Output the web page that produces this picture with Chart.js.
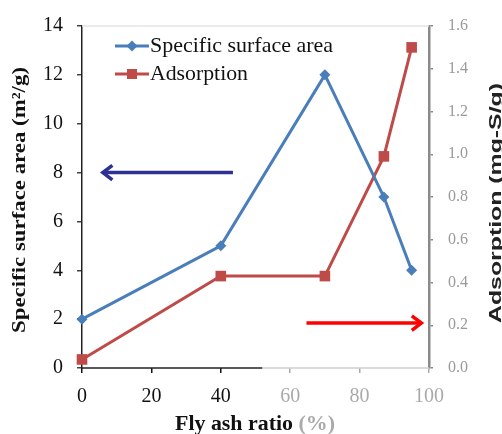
<!DOCTYPE html>
<html>
<head>
<meta charset="utf-8">
<script src="https://cdn.jsdelivr.net/npm/chart.js@4.4.1/dist/chart.umd.min.js"></script>
<style>
  html, body { margin: 0; padding: 0; background: #fff; }
  #wrap { width: 502px; height: 434px; }
</style>
</head>
<body>
<div id="wrap"><canvas id="chart" width="502" height="434"></canvas></div>
<script>
// Data
const ashRatio = [0, 40, 70, 87, 95];            // Fly ash ratio (%)
const surfaceArea = [2, 5, 12, 7, 4];             // m2/g, left axis
const adsorption = [0.04, 0.43, 0.43, 0.99, 1.50]; // mg-S/g, right axis

// Arrows pointing to each series' axis: [xFrom, xTo, yValue]
const blueArrow = [43.5, 6, 8];
const redArrow = [64.7, 97.8, 0.21];

const BLUE = '#4a7ebb';
const RED = '#be4b48';
const SERIF = '"Liberation Serif", "Times New Roman", serif';
const SANS = '"Liberation Sans", Arial, sans-serif';

function drawLine(ctx, x0, y0, x1, y1, color, w) {
    ctx.strokeStyle = color;
    ctx.lineWidth = w;
    ctx.beginPath();
    ctx.moveTo(x0, y0);
    ctx.lineTo(x1, y1);
    ctx.stroke();
}

function drawArrow(ctx, x0, y0, x1, y1, color) {
    drawLine(ctx, x0, y0, x1, y1, color, 3.5);
    const ang = Math.atan2(y1 - y0, x1 - x0);
    const head = 12, spread = 0.65;
    ctx.beginPath();
    ctx.moveTo(x1 - head * Math.cos(ang - spread), y1 - head * Math.sin(ang - spread));
    ctx.lineTo(x1, y1);
    ctx.lineTo(x1 - head * Math.cos(ang + spread), y1 - head * Math.sin(ang + spread));
    ctx.stroke();
}

// text squeezed/stretched to the width seen in the figure
function fitText(ctx, text, cx, cy, rot, font, color, targetW, align) {
    ctx.save();
    ctx.translate(cx, cy);
    ctx.rotate(rot);
    ctx.font = font;
    const w = ctx.measureText(text).width;
    ctx.scale(targetW / w, 1);
    ctx.fillStyle = color;
    ctx.textAlign = align || 'center';
    ctx.textBaseline = 'middle';
    ctx.fillText(text, 0, 0);
    ctx.restore();
}

const axisLines = {
    id: 'axisLines',
    beforeDatasetsDraw(chart) {
        const { ctx, chartArea: a, scales } = chart;
        ctx.save();
        drawLine(ctx, a.left, a.top, a.right, a.top, '#e4e4e4', 1.5);
        const split = scales.x.getPixelForValue(52);
        drawLine(ctx, a.left, a.bottom, split, a.bottom, '#222', 1.5);
        drawLine(ctx, split, a.bottom, a.right, a.bottom, '#cfcfcf', 1.5);
        ctx.restore();
    }
};

const overlay = {
    id: 'overlay',
    afterDraw(chart) {
        const { ctx, chartArea: a, scales } = chart;
        const { x, y, y1 } = scales;
        ctx.save();

        // arrows
        drawArrow(ctx, x.getPixelForValue(blueArrow[0]), y.getPixelForValue(blueArrow[2]),
            x.getPixelForValue(blueArrow[1]), y.getPixelForValue(blueArrow[2]), '#2e3192');
        drawArrow(ctx, x.getPixelForValue(redArrow[0]), y1.getPixelForValue(redArrow[2]),
            x.getPixelForValue(redArrow[1]), y1.getPixelForValue(redArrow[2]), '#ff0000');

        // legend
        const lx = a.left + 33, ly = a.top + 20, gap = 28;
        drawLine(ctx, lx, ly, lx + 34, ly, BLUE, 3);
        ctx.fillStyle = BLUE;
        ctx.beginPath();
        ctx.moveTo(lx + 17, ly - 5.5); ctx.lineTo(lx + 22.5, ly);
        ctx.lineTo(lx + 17, ly + 5.5); ctx.lineTo(lx + 11.5, ly);
        ctx.closePath(); ctx.fill();
        drawLine(ctx, lx, ly + gap, lx + 34, ly + gap, RED, 3);
        ctx.fillStyle = RED;
        ctx.fillRect(lx + 12, ly + gap - 5, 10, 10);
        fitText(ctx, 'Specific surface area', lx + 35, ly, 0, '21px ' + SERIF, '#111', 183, 'left');
        fitText(ctx, 'Adsorption', lx + 35, ly + gap, 0, '21px ' + SERIF, '#111', 98, 'left');

        // axis titles
        fitText(ctx, 'Specific surface area (m\u00b2/g)', 20, 200, -Math.PI / 2,
            'bold 19px ' + SERIF, '#111', 266);
        fitText(ctx, 'Adsorption (mg-S/g)', 496, 203, -Math.PI / 2,
            'bold 17px ' + SANS, '#222', 240);

        // x title, the "(%)" is faded in the source
        ctx.font = 'bold 20px ' + SERIF;
        const wA = ctx.measureText('Fly ash ratio ').width;
        const wB = ctx.measureText('(%)').width;
        const k = 160 / (wA + wB);
        const x0 = 255 - 80;
        fitText(ctx, 'Fly ash ratio ', x0, 425, 0, 'bold 20px ' + SERIF, '#111', wA * k, 'left');
        fitText(ctx, '(%)', x0 + wA * k, 425, 0, 'bold 20px ' + SERIF, '#aaa', wB * k, 'left');

        ctx.restore();
    }
};

const faded = v => (v <= 40 ? '#111' : '#aaa');

new Chart(document.getElementById('chart'), {
    type: 'line',
    data: {
        datasets: [{
            label: 'Specific surface area',
            data: ashRatio.map((r, i) => ({ x: r, y: surfaceArea[i] })),
            yAxisID: 'y',
            borderColor: BLUE,
            backgroundColor: BLUE,
            borderWidth: 3,
            pointStyle: 'rectRot',
            pointRadius: 5.5,
            pointBorderWidth: 0,
            clip: false
        }, {
            label: 'Adsorption',
            data: ashRatio.map((r, i) => ({ x: r, y: adsorption[i] })),
            yAxisID: 'y1',
            borderColor: RED,
            backgroundColor: RED,
            borderWidth: 3,
            pointStyle: 'rect',
            pointRadius: 7.5,
            pointBorderWidth: 0,
            clip: false
        }]
    },
    options: {
        responsive: false,
        animation: false,
        events: [],
        layout: { padding: { top: 21, right: 0, bottom: 0, left: 0 } },
        plugins: {
            legend: { display: false },
            tooltip: { enabled: false }
        },
        scales: {
            x: {
                type: 'linear',
                min: 0,
                max: 100,
                afterFit: s => { s.height = 66; },
                ticks: {
                    stepSize: 20,
                    padding: 12,
                    font: { family: SERIF, size: 20 },
                    color: c => faded(c.tick.value)
                },
                grid: {
                    drawOnChartArea: false,
                    tickLength: 5,
                    lineWidth: 1.5,
                    color: c => faded(c.tick ? c.tick.value : 0)
                },
                border: { display: false }
            },
            y: {
                position: 'left',
                min: 0,
                max: 14,
                afterFit: s => { s.width = 82; },
                ticks: {
                    stepSize: 2,
                    padding: 14,
                    font: { family: SERIF, size: 20 },
                    color: '#111'
                },
                grid: { drawOnChartArea: false, tickLength: 5, color: '#444', lineWidth: 1.5 },
                border: { color: '#222', width: 1.5 }
            },
            y1: {
                position: 'right',
                min: 0,
                max: 1.6,
                afterFit: s => { s.width = 73; },
                ticks: {
                    stepSize: 0.2,
                    padding: 15,
                    font: { family: SERIF, size: 16 },
                    color: '#9a9a9a',
                    callback: v => v.toFixed(1)
                },
                grid: { drawOnChartArea: false, tickLength: 4, color: '#888', lineWidth: 1.5 },
                border: { color: '#8a8a8a', width: 2.5 }
            }
        }
    },
    plugins: [axisLines, overlay]
});
</script>
</body>
</html>
